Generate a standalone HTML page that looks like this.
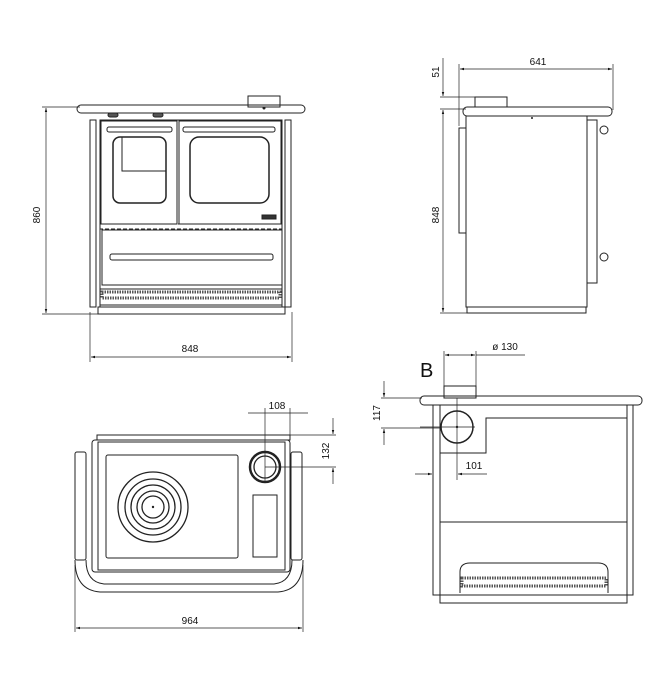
<!DOCTYPE html>
<html><head><meta charset="utf-8"><style>
html,body{margin:0;padding:0;background:#fff;}
svg{display:block;}
text{font-family:"Liberation Sans",sans-serif;font-size:10px;fill:#111;}
</style></head><body>
<svg width="668" height="687" viewBox="0 0 668 687" xmlns="http://www.w3.org/2000/svg">
<defs>
<marker id="a" viewBox="0 0 10 10" refX="10" refY="5" markerWidth="6" markerHeight="6" orient="auto-start-reverse"><path d="M0,2 L10,5 L0,8 z" fill="#111"/></marker>
</defs>
<g fill="none" stroke="#222" stroke-width="1">
<!-- FRONT VIEW -->
<rect x="248" y="96" width="32" height="11"/>
<rect x="77" y="105" width="228" height="8" rx="4"/>
<rect x="108" y="113" width="10" height="4" rx="2" fill="#555"/>
<rect x="153" y="113" width="10" height="4" rx="2" fill="#555"/>
<rect x="90" y="120" width="6" height="187"/>
<rect x="285" y="120" width="6" height="187"/>
<rect x="100" y="120" width="182" height="187"/>
<rect x="101" y="121" width="76" height="103"/>
<rect x="179" y="121" width="102" height="103"/>
<rect x="113" y="137" width="53" height="66" rx="7" stroke-width="1.5"/>
<polyline points="122,137 122,171 166,171"/>
<rect x="190" y="137" width="79" height="66" rx="9" stroke-width="1.5"/>
<rect x="107" y="127" width="65" height="5" rx="2"/>
<rect x="183" y="127" width="92" height="5" rx="2"/>
<rect x="262" y="215" width="14" height="4" fill="#333"/>
<rect x="100" y="224" width="182" height="5" stroke-dasharray="4,2"/>
<rect x="102" y="230" width="180" height="55"/>
<rect x="110" y="254" width="163" height="6" rx="2"/>
<rect x="100" y="289" width="182" height="16"/>
<rect x="102" y="292" width="178" height="6" stroke-dasharray="1.5,1" stroke-width="3" stroke="#555"/>
<rect x="98" y="307" width="187" height="7"/>
<!-- dims front -->
<line x1="42" y1="107" x2="80" y2="107" stroke-width="0.7"/>
<line x1="42" y1="314" x2="98" y2="314" stroke-width="0.7"/>
<line x1="46" y1="108" x2="46" y2="313" stroke-width="0.7" marker-start="url(#a)" marker-end="url(#a)"/>
<line x1="90" y1="312" x2="90" y2="362" stroke-width="0.7"/>
<line x1="292" y1="312" x2="292" y2="362" stroke-width="0.7"/>
<line x1="91" y1="357" x2="291" y2="357" stroke-width="0.7" marker-start="url(#a)" marker-end="url(#a)"/>

<!-- SIDE VIEW -->
<rect x="475" y="97" width="32" height="10"/>
<rect x="463" y="107" width="149" height="9" rx="4"/>
<rect x="466" y="116" width="121" height="191"/>
<rect x="459" y="128" width="7" height="105"/>
<rect x="587" y="120" width="10" height="163"/>
<circle cx="604" cy="130" r="4"/><circle cx="604" cy="257" r="4"/>
<rect x="467" y="307" width="119" height="6"/>
<line x1="440" y1="97" x2="478" y2="97" stroke-width="0.7"/>
<line x1="440" y1="109" x2="466" y2="109" stroke-width="0.7"/>
<line x1="440" y1="313" x2="467" y2="313" stroke-width="0.7"/>
<line x1="443" y1="58" x2="443" y2="96" stroke-width="0.7" marker-end="url(#a)"/>
<line x1="443" y1="110" x2="443" y2="312" stroke-width="0.7" marker-start="url(#a)" marker-end="url(#a)"/>
<line x1="459" y1="64" x2="459" y2="126" stroke-width="0.7"/>
<line x1="613" y1="64" x2="613" y2="110" stroke-width="0.7"/>
<line x1="460" y1="69" x2="612" y2="69" stroke-width="0.7" marker-start="url(#a)" marker-end="url(#a)"/>

<!-- TOP VIEW -->
<rect x="97" y="435" width="193" height="5"/>
<rect x="92" y="440" width="198" height="132" rx="3"/>
<rect x="98" y="442" width="187" height="128"/>
<rect x="106" y="455" width="132" height="103" rx="2"/>
<g stroke-width="1.3">
<circle cx="153" cy="507" r="35"/><circle cx="153" cy="507" r="28"/><circle cx="153" cy="507" r="22"/><circle cx="153" cy="507" r="16"/><circle cx="153" cy="507" r="11"/>
<circle cx="265" cy="467" r="15" stroke-width="2.5"/><circle cx="265" cy="467" r="11"/>
</g>
<rect x="253" y="495" width="24" height="62"/>
<rect x="75" y="452" width="11" height="108" rx="2"/>
<rect x="291" y="452" width="11" height="108" rx="2"/>
<path d="M75,560 Q75,590 100,592 L278,592 Q303,590 303,560"/>
<path d="M86,560 Q86,582 104,584 L274,584 Q292,582 292,560"/>
<line x1="248" y1="413" x2="308" y2="413" stroke-width="0.7"/>
<line x1="265" y1="408" x2="265" y2="482" stroke-width="0.7"/>
<line x1="290" y1="408" x2="290" y2="440" stroke-width="0.7"/>
<line x1="290" y1="435" x2="336" y2="435" stroke-width="0.7"/>
<line x1="265" y1="467" x2="336" y2="467" stroke-width="0.7"/>
<line x1="333" y1="418" x2="333" y2="434" stroke-width="0.7" marker-end="url(#a)"/>
<line x1="333" y1="484" x2="333" y2="468" stroke-width="0.7" marker-end="url(#a)"/>
<line x1="75" y1="565" x2="75" y2="632" stroke-width="0.7"/>
<line x1="303" y1="565" x2="303" y2="632" stroke-width="0.7"/>
<line x1="76" y1="628" x2="302" y2="628" stroke-width="0.7" marker-start="url(#a)" marker-end="url(#a)"/>

<!-- REAR VIEW B -->
<rect x="444" y="386" width="32" height="12"/>
<rect x="420" y="396" width="222" height="9" rx="4"/>
<rect x="433" y="405" width="200" height="190"/>
<line x1="440" y1="405" x2="440" y2="595"/>
<line x1="627" y1="405" x2="627" y2="595"/>
<circle cx="457" cy="427" r="16" stroke-width="1.5"/>
<polyline points="440,453 486,453 486,418 627,418"/>
<line x1="440" y1="522" x2="627" y2="522"/>
<path d="M460,593 L460,572 Q460,563 470,563 L598,563 Q608,563 608,572 L608,593"/>
<rect x="462" y="578" width="144" height="8" stroke-dasharray="1.5,1" stroke-width="3" stroke="#555"/>
<rect x="440" y="595" width="187" height="8"/>
<line x1="444" y1="351" x2="444" y2="386" stroke-width="0.7"/>
<line x1="476" y1="351" x2="476" y2="386" stroke-width="0.7"/>
<line x1="445" y1="355" x2="475" y2="355" stroke-width="0.7" marker-start="url(#a)" marker-end="url(#a)"/>
<line x1="476" y1="355" x2="525" y2="355" stroke-width="0.7"/>
<line x1="457" y1="398" x2="457" y2="480" stroke-width="0.7"/>
<line x1="420" y1="427" x2="475" y2="427" stroke-width="0.7"/>
<line x1="381" y1="398" x2="422" y2="398" stroke-width="0.7"/>
<line x1="381" y1="428" x2="440" y2="428" stroke-width="0.7"/>
<line x1="384" y1="381" x2="384" y2="397" stroke-width="0.7" marker-end="url(#a)"/>
<line x1="384" y1="445" x2="384" y2="429" stroke-width="0.7" marker-end="url(#a)"/>
<line x1="415" y1="474" x2="432" y2="474" stroke-width="0.7" marker-end="url(#a)"/>
<line x1="487" y1="474" x2="458" y2="474" stroke-width="0.7" marker-end="url(#a)"/>
</g>
<g fill="#222">
<circle cx="264" cy="108" r="1.5"/><circle cx="532" cy="118" r="1"/>
<circle cx="457" cy="427" r="1.2"/><circle cx="153" cy="507" r="1.2"/>
</g>
<text x="190" y="352" text-anchor="middle">848</text>
<text transform="translate(40,215) rotate(-90)" text-anchor="middle">860</text>
<text x="538" y="65" text-anchor="middle">641</text>
<text transform="translate(439,72) rotate(-90)" text-anchor="middle">51</text>
<text transform="translate(439,215) rotate(-90)" text-anchor="middle">848</text>
<text x="277" y="409" text-anchor="middle">108</text>
<text transform="translate(329,451) rotate(-90)" text-anchor="middle">132</text>
<text x="190" y="624" text-anchor="middle">964</text>
<text x="420" y="377" style="font-size:20px">B</text>
<text x="505" y="350" text-anchor="middle">ø 130</text>
<text transform="translate(380,413) rotate(-90)" text-anchor="middle">117</text>
<text x="474" y="469" text-anchor="middle">101</text>
</svg>
</body></html>
